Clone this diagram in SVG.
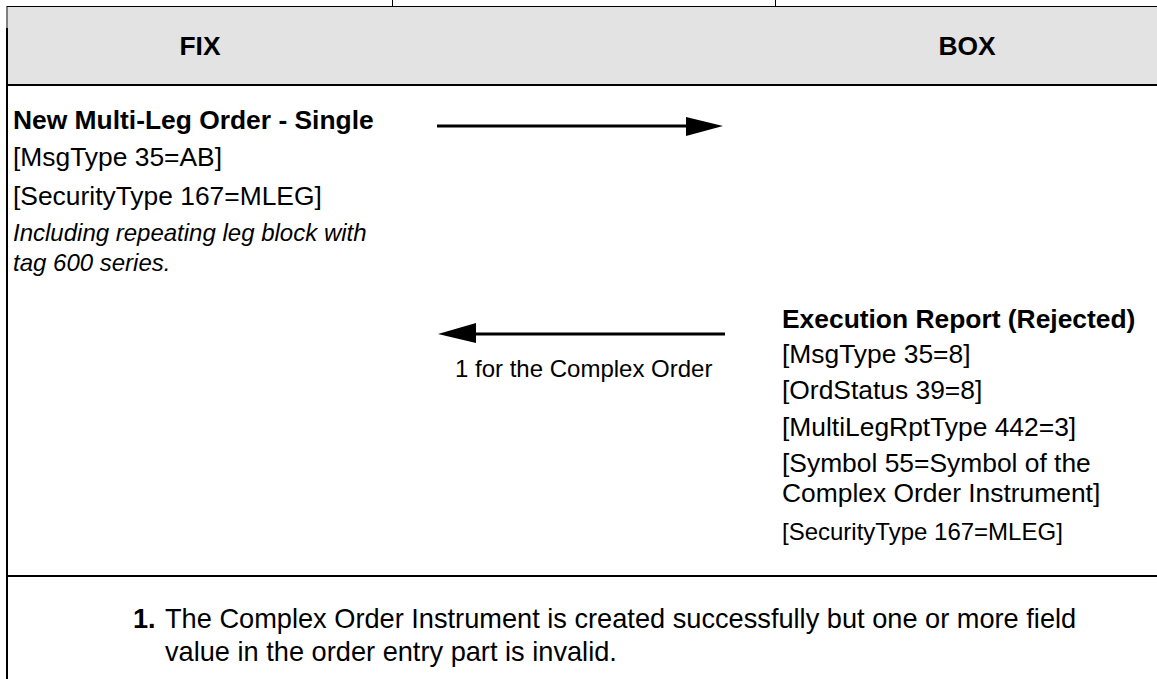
<svg xmlns="http://www.w3.org/2000/svg" width="1157" height="679" viewBox="0 0 1157 679">
<style>
text{font-family:"Liberation Sans",Arial,sans-serif;fill:#000}
.h{font-size:26.4px;font-weight:bold}
.b{font-size:26.4px}
.bb{font-size:26.4px;font-weight:bold}
.s{font-size:24px}
.i{font-size:24px;font-style:italic}
.n{font-size:27.2px}
.nb{font-size:27.2px;font-weight:bold}
.frame{stroke:#000;fill:none}
</style>
<rect width="1157" height="679" fill="#fff"/>
<g id="frame">
<rect x="8" y="7" width="1149" height="77" fill="#e3e3e3"/>
<line class="frame" x1="7" y1="6.5" x2="1157" y2="6.5" stroke-width="1"/>
<line class="frame" x1="392.5" y1="0" x2="392.5" y2="6" stroke-width="1"/>
<line class="frame" x1="775.5" y1="0" x2="775.5" y2="6" stroke-width="1"/>
<line class="frame" x1="7" y1="6" x2="7" y2="28" stroke-width="1"/>
<line class="frame" x1="7" y1="28" x2="7" y2="679" stroke-width="2"/>
<line class="frame" x1="6" y1="85" x2="1157" y2="85" stroke-width="2"/>
<line class="frame" x1="6" y1="576" x2="1157" y2="576" stroke-width="2"/>
</g>
<g id="header-fix"><text class="h" x="200" y="55" text-anchor="middle">FIX</text></g>
<g id="header-box"><text class="h" x="967" y="55" text-anchor="middle">BOX</text></g>
<g id="node-new-order">
<text class="bb" x="13" y="129">New Multi-Leg Order - Single</text>
<text class="b" x="13" y="166">[MsgType 35=AB]</text>
<text class="b" x="13" y="205">[SecurityType 167=MLEG]</text>
<text class="i" x="13" y="241">Including repeating leg block with</text>
<text class="i" x="13" y="271">tag 600 series.</text>
</g>
<g id="node-exec-report">
<text class="bb" x="782" y="328">Execution Report (Rejected)</text>
<text class="b" x="782" y="363">[MsgType 35=8]</text>
<text class="b" x="782" y="399">[OrdStatus 39=8]</text>
<text class="b" x="782" y="436">[MultiLegRptType 442=3]</text>
<text class="b" x="782" y="472">[Symbol 55=Symbol of the</text>
<text class="b" x="782" y="502">Complex Order Instrument]</text>
<text class="s" x="782" y="540">[SecurityType 167=MLEG]</text>
</g>
<g id="connectors">
<line x1="437" y1="126" x2="688" y2="126" stroke="#000" stroke-width="3"/>
<polygon points="686,117 723,126 686,136" fill="#000"/>
<line x1="474" y1="334" x2="725" y2="334" stroke="#000" stroke-width="3"/>
<polygon points="476,323 438,334 476,343" fill="#000"/>
<text class="s" x="455" y="377">1 for the Complex Order</text>
</g>
<g id="note">
<text class="nb" x="133" y="628">1.</text>
<text class="n" x="165" y="628">The Complex Order Instrument is created successfully but one or more field</text>
<text class="n" x="165" y="661">value in the order entry part is invalid.</text>
</g>
</svg>
